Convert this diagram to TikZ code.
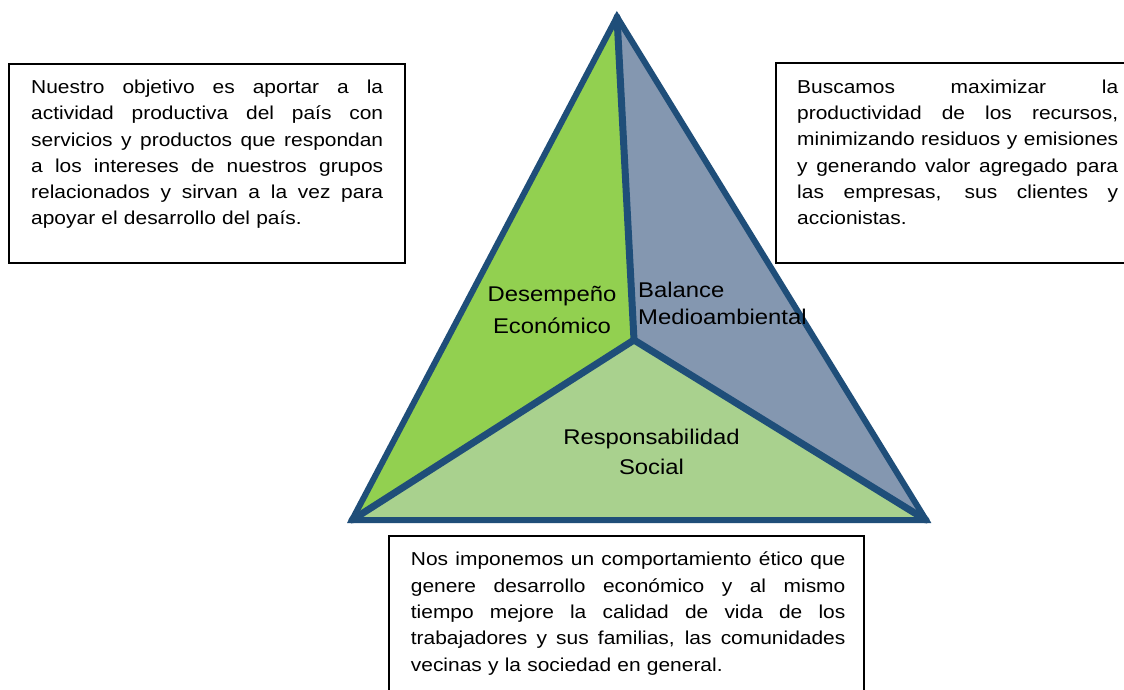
\documentclass[tikz,border=0pt]{standalone}
\usepackage{fontspec}
\setmainfont{Liberation Sans}[FakeStretch=1.12]
\definecolor{edgeblue}{HTML}{1F4E79}
\definecolor{econgreen}{HTML}{92D050}
\definecolor{envgray}{HTML}{8497B0}
\definecolor{socgreen}{HTML}{A9D18E}
\newcommand{\jline}[2]{\leavevmode\rule{0pt}{18pt}\hbox to #1{\spaceskip=\fontdimen2\font plus 1fil minus \fontdimen4\font\relax #2}}
\begin{document}
\begin{tikzpicture}[x=1pt,y=-1pt,
  framebox/.style={draw=black, line width=1.6pt, fill=white},
  boxtext/.style={anchor=north west, inner sep=0pt, text width=#1, align=left,
    font=\fontsize{18.7}{26.3}\selectfont},
  sector/.style={line width=7pt, draw=edgeblue, line cap=round},
  outline/.style={line width=6pt, draw=edgeblue, line join=miter, miter limit=10},
  lbl/.style={inner sep=0pt, font=\fontsize{21.3}{26}\selectfont}
]
\fill[white] (0,0) rectangle (1124,690);
\useasboundingbox (0,0) rectangle (1124,690);

% text boxes
\draw[framebox] (9,64) rectangle (405,263);
\draw[framebox] (776,63) rectangle (1140,263);
\draw[framebox] (389,536) rectangle (864,700);

\node[boxtext=352pt] (econtext) at (31,75.3) {%
\jline{352pt}{Nuestro objetivo es aportar a la}\\
\jline{352pt}{actividad productiva del país con}\\
\jline{352pt}{servicios y productos que respondan}\\
\jline{352pt}{a los intereses de nuestros grupos}\\
\jline{352pt}{relacionados y sirvan a la vez para}\\
\leavevmode apoyar el desarrollo del país.};

\node[boxtext=321pt] (envtext) at (797,75) {%
\jline{321pt}{Buscamos maximizar la}\\
\jline{321pt}{productividad de los recursos,}\\
\jline{321pt}{minimizando residuos y emisiones}\\
\jline{321pt}{y generando valor agregado para}\\
\jline{321pt}{las empresas, sus clientes y}\\
\leavevmode accionistas.};

\node[boxtext=434.5pt] (soctext) at (410.7,547.7) {%
\jline{434.5pt}{Nos imponemos un comportamiento ético que}\\
\jline{434.5pt}{genere desarrollo económico y al mismo}\\
\jline{434.5pt}{tiempo mejore la calidad de vida de los}\\
\jline{434.5pt}{trabajadores y sus familias, las comunidades}\\
\leavevmode vecinas y la sociedad en general.};

% triangle
\coordinate (A) at (617,17);
\coordinate (BL) at (352,520);
\coordinate (BR) at (926,520);
\coordinate (C) at (634,340);

\fill[econgreen] (A) -- (C) -- (BL) -- cycle;
\fill[envgray] (A) -- (BR) -- (C) -- cycle;
\fill[socgreen] (BL) -- (C) -- (BR) -- cycle;

\draw[sector] (A) -- (C);
\draw[sector] (C) -- (BL);
\draw[sector] (C) -- (BR);
\draw[outline] (A) -- (BR) -- (BL) -- cycle;

% labels
\node[lbl, anchor=base] (des1) at (552,301.5) {Desempeño};
\node[lbl, anchor=base] (des2) at (552,333) {Económico};
\node[lbl, anchor=base west] (bal1) at (638,297.3) {Balance};
\node[lbl, anchor=base west] (bal2) at (638,324) {Medioambiental};
\node[lbl, anchor=base] (res1) at (651.5,444) {Responsabilidad};
\node[lbl, anchor=base] (res2) at (651.5,474) {Social};
\end{tikzpicture}
\end{document}
